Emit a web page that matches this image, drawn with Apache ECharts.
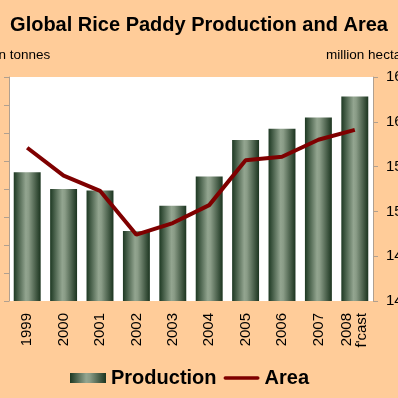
<!DOCTYPE html>
<html>
<head>
<meta charset="utf-8">
<script src="https://cdn.jsdelivr.net/npm/echarts@6/dist/echarts.min.js"></script>
<style>
html,body{margin:0;padding:0;background:#FFCC99;}
#c{width:398px;height:398px;}
</style>
</head>
<body>
<div id="c"></div>
<script>
var years = ['1999', '2000', '2001', '2002', '2003', '2004', '2005', '2006', '2007', "2008\nf'cast"];
var production = [612, 600, 599, 570, 588, 609, 635, 643, 651, 666];
var area = [157.1, 154.0, 152.3, 147.4, 148.7, 150.7, 155.7, 156.1, 158.0, 159.1];
var leftTicks = {min: 520, max: 680, interval: 20};
var rightTicks = {min: 140, max: 165, interval: 5};

var chart = echarts.init(document.getElementById('c'), null, {renderer: 'canvas'});
var font = 'Arial, "Liberation Sans", sans-serif';
var barGrad = new echarts.graphic.LinearGradient(0, 0, 1, 0, [
  {offset: 0, color: '#1d3822'},
  {offset: 0.45, color: '#93a590'},
  {offset: 0.55, color: '#8a9c87'},
  {offset: 1, color: '#1b341f'}
]);
chart.setOption({
  backgroundColor: '#FFCC99',
  animation: false,
  textStyle: {fontFamily: font},
  title: {
    text: 'Global Rice Paddy Production and Area',
    left: 'center',
    top: 10,
    textStyle: {fontSize: 20, fontWeight: 'bold', color: '#000', fontFamily: font}
  },
  legend: {
    bottom: 5,
    left: 65,
    itemGap: 7,
    itemWidth: 36,
    itemHeight: 10,
    textStyle: {fontSize: 20, fontWeight: 'bold', color: '#000', fontFamily: font},
    data: [
      {name: 'Production', icon: 'rect'},
      {name: 'Area', icon: 'path://M2,0 L38,0 A2,2 0 0 1 38,4 L2,4 A2,2 0 0 1 2,0 Z'}
    ]
  },
  grid: {left: 9, right: 25, top: 77, bottom: 97, show: true, backgroundColor: '#ffffff', borderWidth: 0, containLabel: false, outerBoundsMode: 'none'},
  xAxis: {
    type: 'category',
    data: years,
    axisLine: {show: false},
    axisTick: {show: false},
    axisLabel: {rotate: 90, fontSize: 15, color: '#000', margin: 12, lineHeight: 15, fontFamily: font}
  },
  yAxis: [
    {
      type: 'value',
      min: leftTicks.min, max: leftTicks.max, interval: leftTicks.interval,
      name: 'million tonnes',
      nameLocation: 'end',
      nameGap: 15,
      nameTextStyle: {fontSize: 13.5, color: '#000', align: 'center', fontFamily: font},
      axisLine: {show: true, lineStyle: {color: '#b0a090', width: 1}},
      axisTick: {show: true, length: 5, lineStyle: {color: '#b0a090'}},
      axisLabel: {show: true, fontSize: 14, color: '#000', margin: 14},
      splitLine: {show: false}
    },
    {
      type: 'value',
      position: 'right',
      min: rightTicks.min, max: rightTicks.max, interval: rightTicks.interval,
      name: 'million hectares',
      nameLocation: 'end',
      nameGap: 15,
      nameTextStyle: {fontSize: 13.5, color: '#000', align: 'center', fontFamily: font},
      axisLine: {show: true, lineStyle: {color: '#b0a090', width: 1}},
      axisTick: {show: true, length: 5, lineStyle: {color: '#b0a090'}},
      axisLabel: {fontSize: 15, color: '#000', margin: 13, fontFamily: font},
      splitLine: {show: false}
    }
  ],
  series: [
    {
      name: 'Production',
      type: 'bar',
      yAxisIndex: 0,
      data: production,
      barCategoryGap: '26%',
      itemStyle: {color: barGrad}
    },
    {
      name: 'Area',
      type: 'line',
      yAxisIndex: 1,
      data: area,
      symbol: 'none',
      lineStyle: {color: '#7f0000', width: 4},
      itemStyle: {color: '#7f0000'}
    }
  ]
});
</script>
</body>
</html>
